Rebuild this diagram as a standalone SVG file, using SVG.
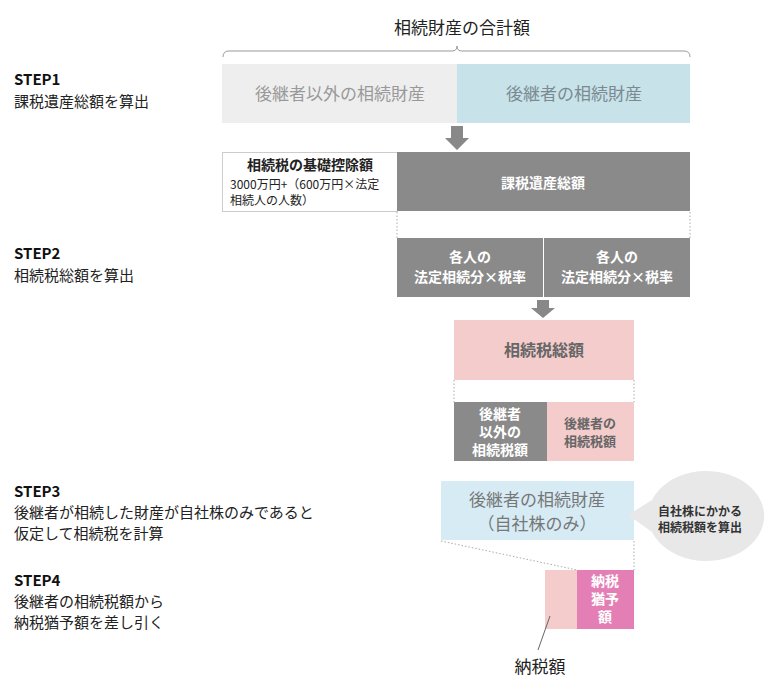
<svg xmlns="http://www.w3.org/2000/svg" width="780" height="690" viewBox="0 0 780 690">
<style>
text{font-family:"Noto Sans CJK JP","Noto Sans",sans-serif;}
.w{fill:#fff;font-weight:bold;font-size:14px;text-anchor:middle}
.d{fill:#222;font-size:15px}
.s{font-weight:bold;font-size:15px;fill:#111}
.dot{stroke:#aaa;stroke-width:1;stroke-dasharray:1.5 2;fill:none}
</style>
<rect width="780" height="690" fill="#fff"/>
<g id="labels">
<text x="462" y="34" font-size="17" text-anchor="middle" fill="#222">相続財産の合計額</text>
<path d="M223 57 Q223 51 229 51 L452 51 Q457 51 457 46 Q457 51 462 51 L684 51 Q690 51 690 57" fill="none" stroke="#999"/>
<text class="s" x="14" y="85">STEP1</text><text class="d" x="14" y="107">課税遺産総額を算出</text>
<text class="s" x="14" y="259">STEP2</text><text class="d" x="14" y="281">相続税総額を算出</text>
<text class="s" x="14" y="497">STEP3</text><text class="d" x="14" y="518">後継者が相続した財産が自社株のみであると</text><text class="d" x="14" y="539">仮定して相続税を計算</text>
<text class="s" x="14" y="586">STEP4</text><text class="d" x="14" y="607">後継者の相続税額から</text><text class="d" x="14" y="628">納税猶予額を差し引く</text>
</g>
<g id="n1"><rect x="222" y="64" width="235" height="59" fill="#eeeeee"/><text x="340" y="100" font-size="17" fill="#999" text-anchor="middle">後継者以外の相続財産</text></g>
<g id="n2"><rect x="457" y="64" width="233" height="59" fill="#c8e2ea"/><text x="574" y="100" font-size="17" fill="#7a8a90" text-anchor="middle">後継者の相続財産</text></g>
<g id="n3"><rect x="222.5" y="152.5" width="175" height="59" fill="#fff" stroke="#ccc"/><text x="310" y="170" font-size="14" font-weight="bold" fill="#222" text-anchor="middle">相続税の基礎控除額</text><text x="230" y="189" font-size="12" fill="#222">3000万円+（600万円×法定</text><text x="230" y="205" font-size="12" fill="#222">相続人の人数）</text></g>
<g id="n4"><rect x="397" y="152" width="293" height="59" fill="#8a8a8a"/><text class="w" x="543" y="188" font-size="16">課税遺産総額</text></g>
<g id="n5"><rect x="397" y="238" width="146" height="59" fill="#8a8a8a"/><text class="w" x="470" y="262">各人の</text><text class="w" x="470" y="282">法定相続分×税率</text></g>
<g id="n6"><rect x="544" y="238" width="146" height="59" fill="#8a8a8a"/><text class="w" x="617" y="262">各人の</text><text class="w" x="617" y="282">法定相続分×税率</text></g>
<g id="n7"><rect x="454" y="320" width="180" height="60" fill="#f4cccc"/><text x="544" y="356" font-size="16" font-weight="bold" fill="#666" text-anchor="middle">相続税総額</text></g>
<g id="n8"><rect x="454" y="402" width="93" height="59" fill="#8a8a8a"/><text class="w" x="500" y="419" font-size="12.5">後継者</text><text class="w" x="500" y="437" font-size="12.5">以外の</text><text class="w" x="500" y="455" font-size="12.5">相続税額</text></g>
<g id="n9"><rect x="547" y="402" width="87" height="59" fill="#f4cccc"/><text x="590" y="428" font-size="13" font-weight="bold" fill="#666" text-anchor="middle">後継者の</text><text x="590" y="446" font-size="13" font-weight="bold" fill="#666" text-anchor="middle">相続税額</text></g>
<g id="n10"><rect x="441" y="481" width="193" height="59" fill="#d6ebf4"/><text x="537" y="506" font-size="17" fill="#777" text-anchor="middle">後継者の相続財産</text><text x="537" y="530" font-size="17" fill="#777" text-anchor="middle">（自社株のみ）</text></g>
<g id="n11"><path d="M628 515 L652 500 A58 45 0 1 1 652 532 Z" fill="#e8e8e8"/><text x="700" y="516" font-size="12" font-weight="bold" fill="#333" text-anchor="middle">自社株にかかる</text><text x="700" y="532" font-size="12" font-weight="bold" fill="#333" text-anchor="middle">相続税額を算出</text></g>
<g id="n12"><rect x="545" y="570" width="32" height="59" fill="#f4cccc"/></g>
<g id="n13"><rect x="577" y="570" width="57" height="59" fill="#e37fb5"/><text class="w" x="605" y="586" font-size="12.5">納税</text><text class="w" x="605" y="604" font-size="12.5">猶予</text><text class="w" x="605" y="622" font-size="12.5">額</text></g>
<g id="n14"><text x="540" y="673" font-size="17" fill="#222" text-anchor="middle">納税額</text></g>
<g id="connectors">
<path d="M451 126 H463 V138 H469 L457 150 L445 138 H451 Z" fill="#888"/>
<path d="M537 300 H549 V308 H555 L543 318 L531 308 H537 Z" fill="#888"/>
<path class="dot" d="M397 212 V238 M690 212 V238 M454 380 V402 M634 380 V402 M441 541 L577 570 M634 541 V570"/>
<path d="M550 616 L538 650" stroke="#666" fill="none"/>
</g>
</svg>
